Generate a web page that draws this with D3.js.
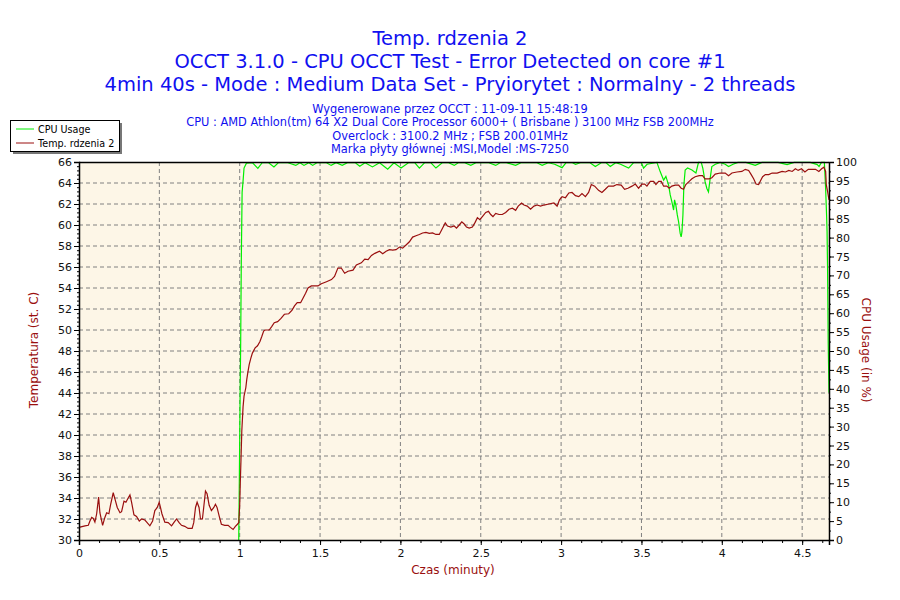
<!DOCTYPE html>
<html>
<head>
<meta charset="utf-8">
<script src="https://cdn.jsdelivr.net/npm/d3@7"></script>
<style>
  body { margin: 0; background: #fff; }
  text { font-family: "DejaVu Sans", sans-serif; }
</style>
</head>
<body>
<script>
// dane: czas w minutach, temperatura w st. C
const tempTime = [0, 0.037, 0.058, 0.068, 0.079, 0.089, 0.099, 0.11, 0.122, 0.13, 0.147, 0.161, 0.172, 0.186, 0.197, 0.213, 0.224, 0.238, 0.255, 0.265, 0.28, 0.292, 0.306, 0.317, 0.327, 0.342, 0.358, 0.375, 0.389, 0.41, 0.424, 0.441, 0.458, 0.472, 0.487, 0.499, 0.507, 0.516, 0.534, 0.555, 0.576, 0.59, 0.607, 0.623, 0.638, 0.658, 0.679, 0.704, 0.714, 0.725, 0.735, 0.747, 0.756, 0.768, 0.776, 0.787, 0.797, 0.81, 0.824, 0.839, 0.849, 0.859, 0.872, 0.886, 0.907, 0.928, 0.942, 0.959, 0.973, 0.986, 0.994,
  1.0, 1.004, 1.008, 1.013, 1.021, 1.027, 1.038, 1.044, 1.05, 1.059, 1.069, 1.079, 1.096, 1.111, 1.126, 1.138, 1.149, 1.159, 1.184, 1.2, 1.215, 1.236, 1.257, 1.278, 1.305, 1.326, 1.341, 1.358, 1.379, 1.393, 1.41, 1.425, 1.446, 1.487, 1.508, 1.54, 1.571, 1.59, 1.611, 1.632, 1.653, 1.674, 1.705, 1.726, 1.757, 1.778, 1.799, 1.82, 1.841, 1.87, 1.89, 1.911, 1.932, 1.952, 1.973, 1.994,
  2.014, 2.035, 2.056, 2.076, 2.097, 2.118, 2.138, 2.159, 2.18, 2.2, 2.221, 2.242, 2.262, 2.279, 2.293, 2.314, 2.335, 2.349, 2.366, 2.382, 2.397, 2.411, 2.428, 2.448, 2.465, 2.479, 2.494, 2.51, 2.531, 2.548, 2.562, 2.576, 2.593, 2.614, 2.634, 2.655, 2.676, 2.697, 2.717, 2.733, 2.754, 2.769, 2.789, 2.81, 2.831, 2.851, 2.872, 2.893, 2.924, 2.955, 2.975, 2.99,
  3.006, 3.027, 3.048, 3.068, 3.089, 3.11, 3.13, 3.151, 3.171, 3.188, 3.209, 3.233, 3.254, 3.275, 3.295, 3.326, 3.347, 3.374, 3.395, 3.416, 3.441, 3.462, 3.482, 3.503, 3.52, 3.534, 3.555, 3.576, 3.59, 3.607, 3.623, 3.638, 3.658, 3.673, 3.689, 3.71, 3.731, 3.747, 3.762, 3.776, 3.797, 3.814, 3.834, 3.859, 3.88, 3.896, 3.921, 3.938, 3.959, 3.99,
  4.021, 4.042, 4.063, 4.094, 4.125, 4.146, 4.167, 4.183, 4.198, 4.213, 4.229, 4.24, 4.254, 4.271, 4.292, 4.313, 4.344, 4.375, 4.396, 4.417, 4.438, 4.458, 4.475, 4.496, 4.517, 4.538, 4.563, 4.583, 4.604, 4.621, 4.635, 4.646, 4.65, 4.658, 4.667];
const tempValue = [31.2, 31.35, 31.4, 31.8, 32.15, 32.05, 31.7, 32.5, 34.1, 32.6, 31.4, 32.15, 32.6, 32.5, 33.4, 34.5, 33.9, 33.1, 32.6, 32.7, 33.7, 33.6, 34.0, 34.3, 33.6, 32.4, 32.25, 31.8, 32.0, 31.9, 31.65, 31.35, 31.8, 32.8, 33.1, 33.6, 33.1, 32.5, 31.7, 31.65, 31.35, 31.65, 32.0, 31.65, 31.4, 31.3, 31.1, 31.1, 31.65, 33.1, 33.6, 33.1, 32.0, 32.0, 33.1, 34.65, 34.4, 33.3, 32.8, 33.1, 33.4, 33.1, 32.3, 31.5, 31.4, 31.4, 31.2, 31.0, 31.3, 31.5, 31.65,
  33.3, 35.7, 37.65, 40.35, 42.7, 43.7, 44.5, 45.3, 45.9, 46.7, 47.3, 47.8, 48.3, 48.5, 48.9, 49.4, 49.9, 50.0, 50.0, 50.35, 50.7, 50.8, 51.1, 51.5, 51.55, 51.9, 52.3, 52.6, 52.6, 53.0, 53.5, 54.0, 54.2, 54.2, 54.4, 54.6, 54.8, 55.1, 55.9, 55.9, 55.4, 55.6, 55.7, 56.2, 56.4, 56.75, 56.7, 57.1, 57.3, 57.5, 57.27, 57.5, 57.65, 57.6, 57.65, 57.9,
  57.8, 58.1, 58.4, 58.85, 58.98, 59.1, 59.24, 59.3, 59.2, 59.24, 59.1, 59.1, 59.7, 60.2, 59.9, 59.8, 59.9, 59.7, 60.0, 60.3, 60.1, 59.8, 59.7, 59.8, 60.25, 60.7, 60.5, 60.8, 61.2, 61.3, 61.0, 60.8, 61.1, 61.0, 61.0, 61.2, 61.5, 61.6, 61.4, 61.8, 62.1, 61.9, 61.8, 61.5, 61.8, 61.9, 61.8, 61.9, 62.0, 62.1, 61.8, 62.4,
  62.7, 62.6, 63.05, 63.1, 62.8, 62.7, 63.0, 62.7, 63.1, 63.85, 63.7, 63.3, 63.1, 63.4, 63.7, 63.7, 63.85, 63.8, 63.4, 63.5, 63.7, 63.9, 63.5, 63.9, 63.9, 63.7, 64.15, 64.15, 63.85, 64.15, 64.15, 63.7, 63.7, 63.5, 63.7, 63.8, 63.8, 63.5, 63.4, 63.85, 64.15, 64.4, 64.6, 64.7, 64.7, 64.4, 64.4, 64.5, 64.85, 64.95,
  64.95, 64.7, 64.95, 65.05, 65.1, 65.3, 65.2, 64.8, 64.4, 63.9, 63.85, 64.2, 64.6, 64.8, 64.8, 64.95, 64.95, 65.1, 65.05, 65.2, 65.1, 65.35, 65.2, 65.35, 65.05, 65.3, 65.3, 65.3, 65.1, 65.35, 65.5, 65.1, 63.85, 63.2, 62.4];

// obciazenie CPU w %
const cpuTime = [0.994, 0.998, 1.002, 1.006, 1.01, 1.015, 1.021, 1.027, 1.042, 1.08, 1.113, 1.14, 1.18, 1.213, 1.24, 1.3, 1.349, 1.375, 1.4, 1.43, 1.454, 1.48, 1.54, 1.569, 1.6, 1.638, 1.67, 1.72, 1.747, 1.78, 1.826, 1.87, 1.921, 1.96,
  2.004, 2.05, 2.09, 2.118, 2.15, 2.19, 2.221, 2.26, 2.3, 2.335, 2.36, 2.4, 2.438, 2.47, 2.55, 2.593, 2.62, 2.66, 2.717, 2.75, 2.85, 2.882, 2.92, 2.96,
  3.006, 3.03, 3.07, 3.09, 3.12, 3.18, 3.213, 3.25, 3.28, 3.306, 3.34, 3.37, 3.42, 3.45, 3.5, 3.513, 3.535, 3.596, 3.617, 3.638, 3.652, 3.669, 3.679, 3.689, 3.7, 3.706, 3.714, 3.723, 3.731, 3.741, 3.747, 3.752, 3.758, 3.764, 3.772, 3.787, 3.814, 3.839, 3.855, 3.872, 3.882, 3.896, 3.907, 3.917, 3.928, 3.938, 3.96, 3.99,
  4.021, 4.042, 4.07, 4.1, 4.15, 4.208, 4.25, 4.35, 4.406, 4.45, 4.55, 4.594, 4.605, 4.62, 4.638, 4.642, 4.646, 4.652, 4.655, 4.658, 4.662, 4.667];
const cpuValue = [0, 17, 36, 52, 74, 92, 95, 98.4, 99.7, 99.8, 98.3, 99.8, 99.8, 98.7, 99.8, 99.8, 99.1, 99.8, 99.1, 99.8, 99.1, 99.8, 99.8, 99.1, 99.8, 99.1, 99.8, 99.8, 98.9, 99.8, 98.7, 99.8, 98.1, 99.8,
  98.4, 99.8, 99.8, 98.4, 99.8, 99.8, 98.4, 99.8, 99.8, 99.1, 99.8, 99.8, 99.1, 99.8, 99.8, 99.1, 99.8, 99.8, 99.1, 99.8, 99.8, 99.1, 99.8, 99.4,
  98.5, 99.8, 99.8, 99.4, 99.8, 99.8, 98.8, 99.8, 99.8, 98.8, 99.8, 99.4, 98.4, 99.8, 99.8, 98.4, 99.4, 99.9, 97.4, 95.2, 96.2, 93.9, 91.3, 89.5, 87.3, 90.0, 88.6, 86, 84.2, 81.1, 80.2, 81.5, 86, 93.9, 97.9, 98.4, 97.9, 97.1, 99.9, 99.9, 98.3, 94.8, 93.0, 92.1, 95.8, 98.8, 99.4, 99.9,
  99.4, 98.8, 99.4, 99.9, 99.9, 99.1, 99.9, 99.9, 99.3, 99.9, 99.9, 99.3, 98.8, 99.9, 99.9, 96.6, 93, 86, 81.6, 72, 52.5, 39];

const xTicks = [0, 0.5, 1, 1.5, 2, 2.5, 3, 3.5, 4, 4.5];
const titleLines = ["Temp. rdzenia 2",
  "OCCT 3.1.0 - CPU OCCT Test - Error Detected on core #1",
  "4min 40s - Mode : Medium Data Set - Pryiorytet : Normalny - 2 threads"];
const infoLines = ["Wygenerowane przez OCCT : 11-09-11 15:48:19",
  "CPU : AMD Athlon(tm) 64 X2 Dual Core Processor 6000+ ( Brisbane ) 3100 MHz FSB 200MHz",
  "Overclock : 3100.2 MHz ; FSB 200.01MHz",
  "Marka płyty głównej :MSI,Model :MS-7250"];
const legendNames = ["CPU Usage", "Temp. rdzenia 2"];

const WIDTH = 900;
const HEIGHT = 600;
const plotL = 79, plotR = 829, plotT = 162, plotB = 540;
const TEMP_COLOR = "#9a0f0f";
const CPU_COLOR = "#00ee00";

const svg = d3.select("body").append("svg")
  .attr("width", WIDTH)
  .attr("height", HEIGHT);

const x = d3.scaleLinear().domain([0, 4.667]).range([plotL, plotR]);
const yT = d3.scaleLinear().domain([30, 66]).range([plotB, plotT]);
const yC = d3.scaleLinear().domain([0, 100]).range([plotB, plotT]);

// tytuly
svg.append("g").selectAll("text").data(titleLines).enter().append("text")
  .attr("x", 450)
  .attr("y", (d, i) => 45 + i * 23)
  .attr("text-anchor", "middle")
  .attr("fill", "#1010f0")
  .style("font-size", "19.5px")
  .text(d => d);

svg.append("g").selectAll("text").data(infoLines).enter().append("text")
  .attr("x", 450)
  .attr("y", (d, i) => 113 + i * 13.3)
  .attr("text-anchor", "middle")
  .attr("fill", "#1010f0")
  .style("font-size", "11.4px")
  .text(d => d);

// tlo wykresu
svg.append("rect")
  .attr("x", plotL).attr("y", plotT)
  .attr("width", plotR - plotL).attr("height", plotB - plotT)
  .attr("fill", "#fdf6e7");

// siatka
const grid = svg.append("g")
  .attr("stroke", "#808080")
  .attr("stroke-dasharray", "4,3");
grid.selectAll("line.h").data(d3.range(32, 66, 2)).enter().append("line")
  .attr("x1", plotL).attr("x2", plotR)
  .attr("y1", d => yT(d)).attr("y2", d => yT(d));
grid.selectAll("line.v").data(xTicks.slice(1)).enter().append("line")
  .attr("y1", plotT).attr("y2", plotB)
  .attr("x1", d => x(d)).attr("x2", d => x(d));

// linie danych
const cpuData = cpuTime.map((t, i) => [t, cpuValue[i]]);
const tempData = tempTime.map((t, i) => [t, tempValue[i]]);

svg.append("path")
  .datum(cpuData)
  .attr("fill", "none")
  .attr("stroke", CPU_COLOR)
  .attr("stroke-width", 1.2)
  .attr("d", d3.line().x(d => x(d[0])).y(d => yC(d[1])));

svg.append("path")
  .datum(tempData)
  .attr("fill", "none")
  .attr("stroke", TEMP_COLOR)
  .attr("stroke-width", 1.2)
  .attr("d", d3.line().x(d => x(d[0])).y(d => yT(d[1])));

// ramka u gory
svg.append("line")
  .attr("x1", plotL).attr("x2", plotR)
  .attr("y1", plotT + 0.5).attr("y2", plotT + 0.5)
  .attr("stroke", "#000").attr("stroke-width", 1.5);

// osie
function styleAxis(g) {
  g.selectAll("text").style("font-family", "DejaVu Sans").style("font-size", "11px").attr("fill", "#111");
  g.selectAll("path, line").attr("stroke", "#000");
  g.select(".domain").attr("stroke-width", 1.5);
}

svg.append("g").attr("transform", `translate(${plotL},0)`)
  .call(d3.axisLeft(yT).tickValues(d3.range(30, 66.01, 0.4)).tickSize(2).tickFormat(""));
svg.append("g").attr("transform", `translate(${plotL},0)`)
  .call(d3.axisLeft(yT).tickValues(d3.range(30, 67, 2)).tickSize(5).tickPadding(2))
  .call(styleAxis);

svg.append("g").attr("transform", `translate(${plotR},0)`)
  .call(d3.axisRight(yC).tickValues(d3.range(0, 100.1, 2.5)).tickSize(2).tickFormat(""));
svg.append("g").attr("transform", `translate(${plotR},0)`)
  .call(d3.axisRight(yC).tickValues(d3.range(0, 101, 5)).tickSize(5).tickPadding(2))
  .call(styleAxis);

svg.append("g").attr("transform", `translate(0,${plotB})`)
  .call(d3.axisBottom(x).tickValues(d3.range(0, 4.67, 0.125)).tickSize(3).tickFormat(""));
svg.append("g").attr("transform", `translate(0,${plotB})`)
  .call(d3.axisBottom(x).tickValues(xTicks).tickSize(5).tickPadding(4).tickFormat(d3.format("")))
  .call(styleAxis);

// opisy osi
svg.append("text")
  .attr("transform", "translate(38,350) rotate(-90)")
  .attr("text-anchor", "middle")
  .attr("fill", TEMP_COLOR)
  .style("font-size", "12px")
  .text("Temperatura (st. C)");

svg.append("text")
  .attr("transform", "translate(862,350) rotate(90)")
  .attr("text-anchor", "middle")
  .attr("fill", TEMP_COLOR)
  .style("font-size", "12px")
  .text("CPU Usage (in %)");

svg.append("text")
  .attr("x", 453).attr("y", 574)
  .attr("text-anchor", "middle")
  .attr("fill", TEMP_COLOR)
  .style("font-size", "12px")
  .text("Czas (minuty)");

// legenda
const legend = svg.append("g");
legend.append("rect")
  .attr("x", 13).attr("y", 123).attr("width", 109).attr("height", 31)
  .attr("fill", "#777");
legend.append("rect")
  .attr("x", 10.5).attr("y", 120.5).attr("width", 109).attr("height", 31)
  .attr("fill", "#fff").attr("stroke", "#000");
const entries = legend.selectAll("g.e").data(legendNames).enter().append("g")
  .attr("transform", (d, i) => `translate(0,${129 + i * 14})`);
entries.append("line")
  .attr("x1", 16).attr("x2", 34)
  .attr("stroke", (d, i) => i === 0 ? CPU_COLOR : TEMP_COLOR);
entries.append("text")
  .attr("x", 38).attr("y", 4)
  .attr("fill", "#000")
  .style("font-size", "9.6px")
  .text(d => d);
</script>
</body>
</html>
